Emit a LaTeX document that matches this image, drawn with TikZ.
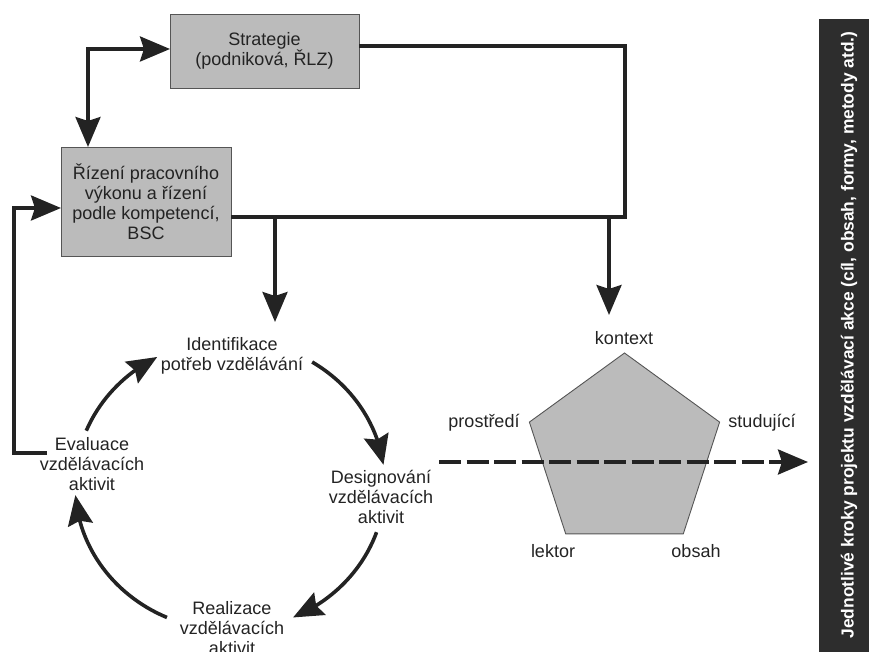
\documentclass[tikz,border=0pt]{standalone}
\usepackage{fontspec}
\setmainfont{Liberation Sans}
\usetikzlibrary{arrows.meta,bending,shapes.geometric}
\definecolor{boxgray}{HTML}{BBBBBB}
\definecolor{edgegray}{HTML}{555555}
\definecolor{ink}{HTML}{232323}
\definecolor{panel}{HTML}{2D2D2D}
\begin{document}
\begin{tikzpicture}[x=1pt,y=1pt,
  every node/.style={font=\fontsize{18}{20}\selectfont, text=ink, inner sep=0pt, outer sep=0pt, align=center},
  block/.style={draw=edgegray, line width=0.9pt, fill=boxgray},
  flow/.style={line width=3.6pt, draw=ink},
  head/.style={-{Stealth[length=30pt,width=25pt,inset=4pt]}},
  twohead/.style={{Stealth[length=30pt,width=25pt,inset=4pt]}-{Stealth[length=30pt,width=25pt,inset=4pt]}},
  dashedflow/.style={line width=3.6pt, draw=ink, dash pattern=on 22pt off 5.5pt},
  penta/.style={regular polygon, regular polygon sides=5, minimum size=200pt, draw=edgegray, line width=0.9pt, fill=boxgray},
  caption/.style={font=\bfseries\fontsize{17.4}{20}\selectfont, text=white, rotate=90}
]
\useasboundingbox (0,0) rectangle (869,651);

% management boxes
\node[block, minimum width=189pt, minimum height=74pt] (str) at (264.5,600) {Strategie\\(podniková, ŘLZ)};
\node[block, minimum width=170pt, minimum height=109pt] (riz) at (146,449.5) {Řízení pracovního\\výkonu a řízení\\podle kompetencí,\\BSC};

% training cycle
\node (id)  at (232,295.5) {Identifikace\\potřeb vzdělávání};
\node (des) at (381,154)   {Designování\\vzdělávacích\\aktivit};
\node (rea) at (232,23)    {Realizace\\vzdělávacích\\aktivit};
\node (ev)  at (92,187)    {Evaluace\\vzdělávacích\\aktivit};
\coordinate (cyc) at (230,166);

\begin{scope}[flow, head]
  \draw ([shift={(158:155pt and 145pt)}]cyc) arc[start angle=158, end angle=118, x radius=155, y radius=145];
  \draw ([shift={(58:155pt and 145pt)}]cyc)  arc[start angle=58,  end angle=8,   x radius=155, y radius=145];
  \draw ([shift={(-19:155pt and 145pt)}]cyc) arc[start angle=-19, end angle=-66, x radius=155, y radius=145];
  \draw ([shift={(246:155pt and 145pt)}]cyc) arc[start angle=246, end angle=184, x radius=155, y radius=145];
\end{scope}

% pentagon of factors
\node[penta] (pent) at (624.5,198) {};
\node (kon) at (624,313) {kontext};
\node (pro) at (484,228) {prostředí};
\node (stu) at (762,228) {studující};
\node (lek) at (553,100) {lektor};
\node (obs) at (696,100) {obsah};

% side panel
\fill[panel] (819,-5) rectangle (880,632);
\node[caption] (side) at (849,316) {Jednotlivé kroky projektu vzdělávací akce (cíl, obsah, formy, metody atd.)};

% connectors between blocks
\coordinate (evl) at (47,198);
\coordinate (jr) at (625,434);
\coordinate (d1) at (275,434);
\coordinate (d2) at (609,434);
\coordinate (t1) at (275,329);
\coordinate (t2) at (609,336);
\coordinate (ds) at (439,189);
\coordinate (de) at (808,189);

\draw[flow, twohead] ([xshift=27pt]riz.north west) |- ([yshift=2pt]str.west);
\draw[flow, head] (evl) -| ([xshift=-47pt,yshift=-6.5pt]riz.west) -- ([yshift=-6.5pt]riz.west);
\draw[flow] ([yshift=5pt]str.east) -| (jr) -- ([yshift=-15.5pt]riz.east);
\draw[flow, head] (d1) -- (t1);
\draw[flow, head] (d2) -- (t2);
\draw[dashedflow, head] (ds) -- (de);
\end{tikzpicture}
\end{document}
